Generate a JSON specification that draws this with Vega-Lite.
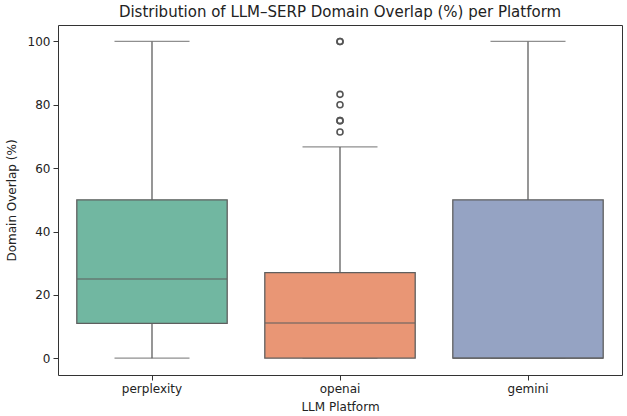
{
  "$schema": "https://vega.github.io/schema/vega-lite/v6.json",
  "width": 564,
  "height": 350,
  "autosize": {"type": "none"},
  "padding": {"left": 58, "top": 25, "right": 5, "bottom": 41},
  "background": "white",
  "title": {"text": "Distribution of LLM–SERP Domain Overlap (%) per Platform", "font": "DejaVu Sans", "fontSize": 15, "fontWeight": "normal", "color": "#222222", "offset": 5, "anchor": "middle"},
  "config": {
    "view": {"stroke": "#333333", "strokeWidth": 1},
    "axis": {"domain": false, "grid": false, "labelFont": "DejaVu Sans", "titleFont": "DejaVu Sans", "labelFontSize": 12, "titleFontSize": 12, "titleFontWeight": "normal", "labelColor": "#222222", "titleColor": "#222222", "tickColor": "#333333", "tickSize": 5, "labelPadding": 3}
  },
  "datasets": {
    "stats": [
      {"platform": "perplexity", "lower": 0, "q1": 11, "median": 25, "q3": 50, "upper": 100},
      {"platform": "openai", "lower": 0, "q1": 0, "median": 11.1, "q3": 27, "upper": 66.7},
      {"platform": "gemini", "lower": 0, "q1": 0, "median": 0, "q3": 50, "upper": 100}
    ],
    "outliers": [
      {"platform": "openai", "value": 100},
      {"platform": "openai", "value": 100},
      {"platform": "openai", "value": 83.3},
      {"platform": "openai", "value": 80},
      {"platform": "openai", "value": 75},
      {"platform": "openai", "value": 75},
      {"platform": "openai", "value": 71.4}
    ]
  },
  "encoding": {
    "x": {"field": "platform", "type": "nominal", "sort": ["perplexity", "openai", "gemini"], "scale": {"paddingInner": 0, "paddingOuter": 0}, "axis": {"title": "LLM Platform", "labelAngle": 0, "titlePadding": 7}}
  },
  "layer": [
    {
      "data": {"name": "stats"},
      "mark": {"type": "rule", "color": "#5f5f5f", "strokeWidth": 1.3},
      "encoding": {
        "y": {"field": "lower", "type": "quantitative", "scale": {"domain": [-5.3, 105.2], "nice": false, "zero": false}, "axis": {"title": "Domain Overlap (%)", "values": [0, 20, 40, 60, 80, 100], "titlePadding": 9}},
        "y2": {"field": "upper"}
      }
    },
    {
      "data": {"name": "stats"},
      "mark": {"type": "tick", "color": "#5f5f5f", "size": 75, "thickness": 1.3, "orient": "horizontal"},
      "encoding": {"y": {"field": "upper", "type": "quantitative"}}
    },
    {
      "data": {"name": "stats"},
      "mark": {"type": "tick", "color": "#5f5f5f", "size": 75, "thickness": 1.3, "orient": "horizontal"},
      "encoding": {"y": {"field": "lower", "type": "quantitative"}}
    },
    {
      "data": {"name": "stats"},
      "mark": {"type": "bar", "width": {"band": 0.8}, "stroke": "#5f5f5f", "strokeWidth": 1.3},
      "encoding": {
        "y": {"field": "q1", "type": "quantitative"},
        "y2": {"field": "q3"},
        "color": {"field": "platform", "type": "nominal", "scale": {"domain": ["perplexity", "openai", "gemini"], "range": ["#71b7a1", "#e99675", "#95a3c3"]}, "legend": null}
      }
    },
    {
      "data": {"name": "stats"},
      "mark": {"type": "tick", "color": "#5f5f5f", "size": 150, "thickness": 1.5, "orient": "horizontal"},
      "encoding": {"y": {"field": "median", "type": "quantitative"}}
    },
    {
      "data": {"name": "outliers"},
      "mark": {"type": "point", "filled": false, "stroke": "#555555", "strokeWidth": 1.6, "size": 36, "opacity": 1},
      "encoding": {"y": {"field": "value", "type": "quantitative"}}
    }
  ]
}
